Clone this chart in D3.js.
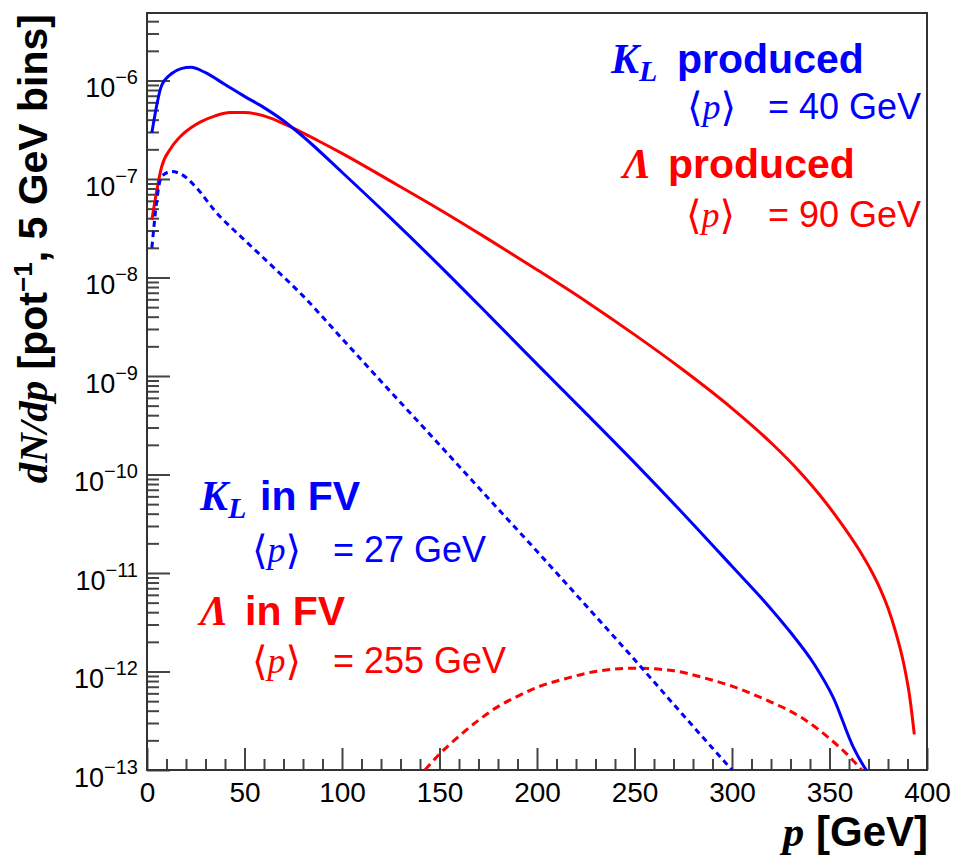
<!DOCTYPE html>
<html>
<head>
<meta charset="utf-8">
<script src="https://cdn.jsdelivr.net/npm/d3@7"></script>
<style>
  body { margin: 0; background: #fff; }
</style>
</head>
<body>
<svg id="chart" width="956" height="857"></svg>
<script>
// momentum (GeV) and dN/dp values
const kProdP = [2.5, 7.5, 12.5, 17.5, 22.5, 30, 40, 50, 60, 70, 80, 100, 125, 150, 175, 200, 225, 250, 275, 300, 318, 330, 342, 352, 362, 367.5, 372.5];
const kProdV = [2.95e-7, 8.9e-7, 1.17e-6, 1.32e-6, 1.36e-6, 1.20e-6, 9.1e-7, 6.9e-7, 5.3e-7, 3.9e-7, 2.7e-7, 1.17e-7, 4.0e-8, 1.32e-8, 4.2e-9, 1.32e-9, 4.2e-10, 1.32e-10, 4.0e-11, 1.17e-11, 4.8e-12, 2.5e-12, 1.2e-12, 5.4e-13, 1.74e-13, 1.1e-13, 7.9e-14];

const kFvP = [2.5, 7.5, 12.5, 17.5, 25, 35, 50, 65, 80, 100, 125, 150, 175, 200, 225, 250, 275, 300];
const kFvV = [2.0e-8, 1.06e-7, 1.19e-7, 1.12e-7, 8.3e-8, 4.7e-8, 2.4e-8, 1.26e-8, 6.5e-9, 2.4e-9, 6.9e-10, 2.0e-10, 5.75e-11, 1.66e-11, 4.7e-12, 1.32e-12, 3.6e-13, 1.0e-13];

const lamProdP = [2.5, 7.5, 12.5, 17.5, 22.5, 27.5, 35, 42.5, 50, 60, 72, 88, 100, 125, 150, 175, 200, 225, 250, 275, 300, 320, 335, 345, 355, 365, 371, 376, 380, 384, 388, 391, 393.5];
const lamProdV = [3.84e-8, 1.33e-7, 2.09e-7, 2.75e-7, 3.31e-7, 3.80e-7, 4.37e-7, 4.73e-7, 4.73e-7, 4.37e-7, 3.5e-7, 2.43e-7, 1.82e-7, 9.5e-8, 4.9e-8, 2.45e-8, 1.2e-8, 5.75e-9, 2.63e-9, 1.15e-9, 4.7e-10, 2.1e-10, 1.05e-10, 6.2e-11, 3.4e-11, 1.74e-11, 1.09e-11, 6.9e-12, 4.4e-12, 2.49e-12, 1.22e-12, 5.77e-13, 2.3e-13];

const lamFvP = [142.5, 150, 160, 170, 180, 190, 200, 215, 230, 250, 270, 285, 300, 310, 320, 335, 350, 360, 367.5];
const lamFvV = [1.0e-13, 1.45e-13, 2.2e-13, 3.2e-13, 4.4e-13, 5.6e-13, 6.9e-13, 8.5e-13, 1.0e-12, 1.08e-12, 1.02e-12, 8.7e-13, 7.1e-13, 5.96e-13, 4.9e-13, 3.47e-13, 2.09e-13, 1.38e-13, 9.5e-14];

const xTicks = [0, 50, 100, 150, 200, 250, 300, 350, 400];
const yTicks = [1e-13, 1e-12, 1e-11, 1e-10, 1e-9, 1e-8, 1e-7, 1e-6];

const width = 956, height = 857;
const margin = {top: 13, right: 29, bottom: 87, left: 147};
const sans = "'Liberation Sans', Arial, Helvetica, sans-serif";
const serif = "'Liberation Serif', 'Times New Roman', 'DejaVu Serif', serif";
const blue = "#0000ff", red = "#ff0000";

const svg = d3.select("#chart");

const x = d3.scaleLinear().domain([0, 400]).range([margin.left, width - margin.right]);
const y = d3.scaleLog().domain([1e-13, Math.pow(10, -5.315)]).range([height - margin.bottom, margin.top]);

svg.append("clipPath").attr("id", "plotclip")
  .append("rect")
  .attr("x", margin.left).attr("y", margin.top)
  .attr("width", width - margin.left - margin.right)
  .attr("height", height - margin.top - margin.bottom);

// minor ticks
const xMinor = d3.range(0, 401, 10).filter(d => d % 50 !== 0);
const yMinor = [];
for (let e = -13; e <= -6; e++) {
  for (let m = 2; m <= 9; m++) {
    const v = m * Math.pow(10, e);
    if (v < y.domain()[1]) yMinor.push(v);
  }
}

function styleAxis(g) {
  g.select(".domain").remove();
  g.selectAll(".tick line").attr("stroke", "#444").attr("stroke-width", 2);
}

// x axis
const gxMinor = svg.append("g")
  .attr("transform", `translate(0,${y.range()[0]})`)
  .call(d3.axisBottom(x).tickValues(xMinor).tickSizeInner(-11).tickSizeOuter(0).tickFormat(""));
styleAxis(gxMinor);

const gx = svg.append("g")
  .attr("transform", `translate(0,${y.range()[0]})`)
  .call(d3.axisBottom(x).tickValues(xTicks).tickSizeInner(-22).tickSizeOuter(0).tickPadding(12));
styleAxis(gx);
gx.selectAll(".tick text")
  .attr("font-family", sans).attr("font-size", 28).attr("fill", "#000");

// y axis
const gyMinor = svg.append("g")
  .attr("transform", `translate(${x.range()[0]},0)`)
  .call(d3.axisLeft(y).tickValues(yMinor).tickSizeInner(-12).tickSizeOuter(0).tickFormat(""));
styleAxis(gyMinor);

const gy = svg.append("g")
  .attr("transform", `translate(${x.range()[0]},0)`)
  .call(d3.axisLeft(y).tickValues(yTicks).tickSizeInner(-23).tickSizeOuter(0).tickFormat(""));
styleAxis(gy);
gy.selectAll(".tick text")
  .attr("dy", null).attr("x", -9).attr("y", 16.5)
  .attr("font-family", sans).attr("fill", "#000")
  .each(function(d) {
    const t = d3.select(this);
    t.text(null);
    t.append("tspan").attr("font-size", 27).text("10");
    t.append("tspan").attr("font-size", 20).attr("dy", -13)
      .text("\u2212" + Math.abs(Math.round(Math.log10(d))));
  });

// frame
svg.append("rect")
  .attr("x", margin.left).attr("y", margin.top)
  .attr("width", width - margin.left - margin.right)
  .attr("height", height - margin.top - margin.bottom)
  .attr("fill", "none").attr("stroke", "#333").attr("stroke-width", 2);

// curves
const line = d3.line()
  .x(d => x(d[0]))
  .y(d => y(d[1]))
  .curve(d3.curveMonotoneX);

const series = [
  {p: lamProdP, v: lamProdV, color: red, dash: null},
  {p: lamFvP, v: lamFvV, color: red, dash: "8,5"},
  {p: kFvP, v: kFvV, color: blue, dash: "6,4.5"},
  {p: kProdP, v: kProdV, color: blue, dash: null}
];

const curves = svg.append("g").attr("clip-path", "url(#plotclip)");
series.forEach(s => {
  curves.append("path")
    .datum(d3.zip(s.p, s.v))
    .attr("d", line)
    .attr("fill", "none")
    .attr("stroke", s.color)
    .attr("stroke-width", 3)
    .attr("stroke-dasharray", s.dash);
});

// labels
function particle(xp, yb, color, sym, sub, rest, restX) {
  const t = svg.append("text").attr("x", xp).attr("y", yb).attr("fill", color);
  t.append("tspan").attr("font-family", serif).attr("font-style", "italic")
    .attr("font-weight", "bold").attr("font-size", 42).text(sym);
  if (sub) {
    t.append("tspan").attr("font-family", serif).attr("font-style", "italic")
      .attr("font-weight", "bold").attr("font-size", 30).attr("dy", 8).text(sub);
  }
  t.append("tspan").attr("x", restX).attr("dy", sub ? -8 : 0)
    .attr("font-family", sans).attr("font-weight", "bold").attr("font-size", 41).text(rest);
}

function meanP(xp, yb, color, valueText, eqX) {
  const t = svg.append("text").attr("x", xp).attr("y", yb).attr("fill", color)
    .attr("font-family", serif).attr("font-size", 36);
  t.append("tspan").attr("font-size", 40).attr("dy", 2).text("\u27E8");
  t.append("tspan").attr("font-style", "italic").attr("dy", -2).text("p");
  t.append("tspan").attr("font-size", 40).attr("dy", 2).text("\u27E9");
  svg.append("text").attr("x", eqX).attr("y", yb).attr("fill", color)
    .attr("font-family", sans).attr("font-size", 36).text("= " + valueText);
}

particle(611, 73, blue, "K", "L", "produced", 677);
meanP(687, 119, blue, "40 GeV", 768);
particle(623, 178, red, "\u039B", null, "produced", 668);
meanP(686, 227, red, "90 GeV", 768);

particle(200, 510, blue, "K", "L", "in FV", 260);
meanP(252, 562, blue, "27 GeV", 333);
particle(200, 625, red, "\u039B", null, "in FV", 245);
meanP(252, 673, red, "255 GeV", 333);

// axis titles
const xt = svg.append("text")
  .attr("x", width - margin.right + 1).attr("y", 846)
  .attr("text-anchor", "end").attr("fill", "#000");
xt.append("tspan").attr("font-family", serif).attr("font-style", "italic")
  .attr("font-weight", "bold").attr("font-size", 43).text("p");
xt.append("tspan").attr("font-family", sans).attr("font-weight", "bold")
  .attr("font-size", 42).text(" [GeV]");

const yt = svg.append("text")
  .attr("transform", `translate(47,${margin.top + 1}) rotate(-90)`)
  .attr("text-anchor", "end").attr("fill", "#000");
yt.append("tspan").attr("font-family", serif).attr("font-style", "italic")
  .attr("font-weight", "bold").attr("font-size", 41).text("dN/dp");
yt.append("tspan").attr("font-family", sans).attr("font-weight", "bold")
  .attr("font-size", 41).text(" [pot");
yt.append("tspan").attr("font-family", sans).attr("font-weight", "bold")
  .attr("font-size", 26).attr("dy", -15).text("\u22121");
yt.append("tspan").attr("font-family", sans).attr("font-weight", "bold")
  .attr("font-size", 41).attr("dy", 15).text(", 5 GeV bins]");
</script>
</body>
</html>
